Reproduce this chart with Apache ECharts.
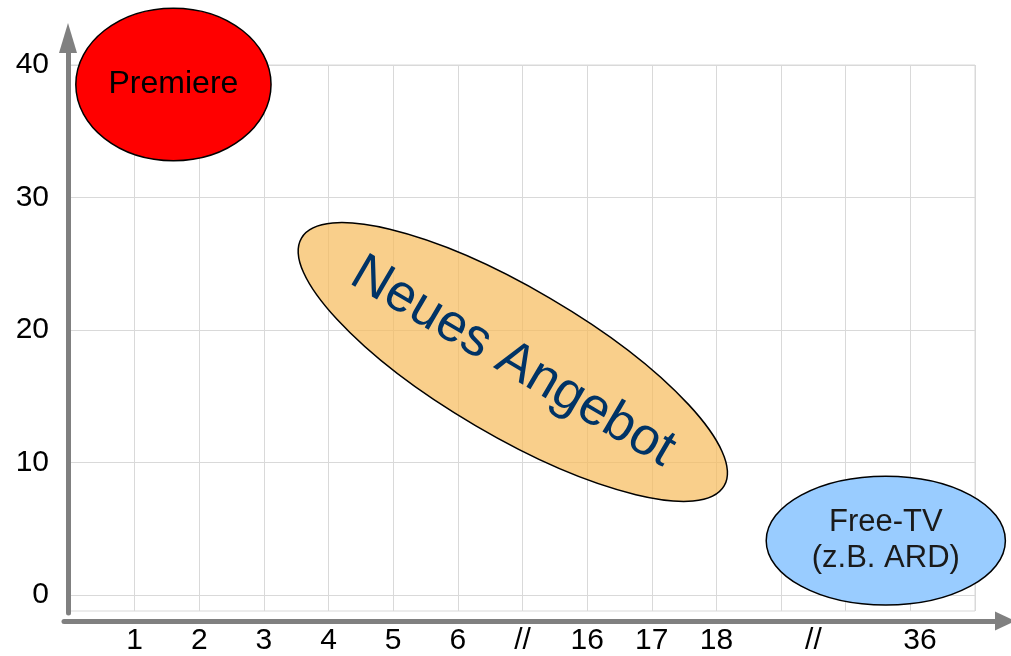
<!DOCTYPE html>
<html>
<head>
<meta charset="utf-8">
<script src="https://cdn.jsdelivr.net/npm/echarts@6/dist/echarts.min.js"></script>
<style>
html,body{margin:0;padding:0;background:#fff;}
#chart{width:1011px;height:656px;}
</style>
</head>
<body>
<div id="chart"></div>
<script>
// ---- data ----
const xTickValues = [1, 2, 3, 4, 5, 6, 7, 8, 9, 10, 11.5, 13.15];
const xTickLabels = ['1', '2', '3', '4', '5', '6', '//', '16', '17', '18', '//', '36'];
const yTickValues = [0, 10, 20, 30, 40];
const yTickLabels = ['0', '10', '20', '30', '40'];

const ellipseNames = ['Premiere', 'Neues Angebot', 'Free-TV\n(z.B. ARD)'];
const ellipseX = [1.60, 6.85, 12.62];      // centre, x units
const ellipseY = [38.53, 17.59, 4.11];     // centre, y units
const ellipseRx = [1.51, 3.79, 1.85];      // semi-axis, x units
const ellipseRy = [5.76, 5.57, 4.86];      // semi-axis, y units
const ellipseAngle = [0, 30.4, 0];         // tilt, degrees (clockwise)

// ---- styles ----
const ellipseFill = ['#ff0000', 'rgba(247,186,90,0.7)', '#99ccff'];
const textColor = ['#000000', '#003366', '#1a1a1a'];
const textSize = [32, 53, 31];
const FONT = '"Liberation Sans", Arial, sans-serif';

const ellipseData = ellipseNames.map((n, i) => [ellipseX[i], ellipseY[i], ellipseRx[i], ellipseRy[i], ellipseAngle[i]]);

const chart = echarts.init(document.getElementById('chart'), null, {renderer: 'canvas'});

const option = {
  backgroundColor: '#ffffff',
  animation: false,
  grid: [
    {left: 70, right: 36, top: 65, bottom: 44, show: true, borderColor: '#d9d9d9', borderWidth: 1, containLabel: false},
    {left: 64, right: 6, top: 100, bottom: 35, show: false},
    {left: 68, right: 100, top: 38, bottom: 43, show: false}
  ],
  xAxis: [
    {
      gridIndex: 0, type: 'value', min: 0, max: 14, interval: 1,
      axisLine: {show: false}, axisTick: {show: false},
      splitLine: {show: true, lineStyle: {color: '#d9d9d9', width: 1}},
      axisLabel: {
        show: true, customValues: xTickValues, margin: 15,
        color: '#000', fontSize: 30, fontFamily: FONT,
        formatter: function (v) {
          const idx = xTickValues.findIndex(t => Math.abs(t - v) < 1e-6);
          return idx >= 0 ? xTickLabels[idx] : '';
        }
      }
    },
    {
      gridIndex: 1, type: 'value', min: 0, max: 1,
      axisLine: {show: true, onZero: false, symbol: ['none', 'triangle'], symbolSize: [19, 20],
        lineStyle: {color: '#808080', width: 5}},
      axisTick: {show: false}, axisLabel: {show: false}, splitLine: {show: false}
    },
    {
      gridIndex: 2, type: 'value', min: 0, max: 1, show: false
    }
  ],
  yAxis: [
    {
      gridIndex: 0, type: 'value', min: -1.2, max: 40,
      axisLine: {show: false},
      axisTick: {show: false, customValues: yTickValues},
      splitLine: {show: true, lineStyle: {color: '#d9d9d9', width: 1}},
      axisLabel: {
        show: true, customValues: yTickValues, margin: 21,
        color: '#000', fontSize: 30, fontFamily: FONT,
        formatter: function (v) {
          const idx = yTickValues.findIndex(t => Math.abs(t - v) < 1e-6);
          return idx >= 0 ? yTickLabels[idx] : '';
        }
      }
    },
    {
      gridIndex: 1, type: 'value', min: 0, max: 1, show: false
    },
    {
      gridIndex: 2, type: 'value', min: 0, max: 1,
      axisLine: {show: true, onZero: false, symbol: ['none', 'triangle'], symbolSize: [18, 30],
        lineStyle: {color: '#808080', width: 5}},
      axisTick: {show: false}, axisLabel: {show: false}, splitLine: {show: false}
    }
  ],
  series: [
    {
      type: 'custom',
      xAxisIndex: 0, yAxisIndex: 0,
      clip: false,
      data: ellipseData,
      renderItem: function (params, api) {
        const i = params.dataIndex;
        const c = api.coord([api.value(0), api.value(1)]);
        const rx = api.size([api.value(2), 0])[0];
        const ry = api.size([0, api.value(3)])[1];
        const rot = -api.value(4) * Math.PI / 180;
        return {
          type: 'group',
          children: [
            {
              type: 'ellipse', x: c[0], y: c[1], rotation: rot,
              shape: {cx: 0, cy: 0, rx: rx, ry: ry},
              style: {fill: ellipseFill[i], stroke: '#000000', lineWidth: 1.5}
            },
            {
              type: 'text', x: c[0], y: c[1], rotation: rot,
              style: {
                text: ellipseNames[i], fill: textColor[i],
                fontSize: textSize[i], fontFamily: FONT,
                align: 'center', verticalAlign: 'middle', lineHeight: 36
              }
            }
          ]
        };
      }
    }
  ]
};

chart.setOption(option);
</script>
</body>
</html>
